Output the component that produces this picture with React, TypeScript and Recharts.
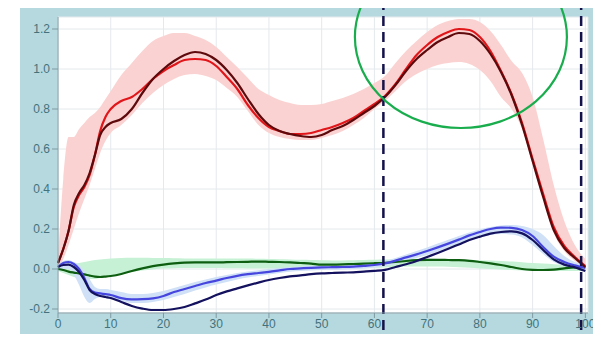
import React from 'react';
import {
  ComposedChart,
  Line,
  Area,
  XAxis,
  YAxis,
  CartesianGrid,
  ReferenceLine,
  ReferenceDot,
} from 'recharts';

// % of cycle
const X_VALUES = [
  0, 1, 2, 3, 4, 5, 6, 7, 8, 9, 10, 12, 14, 16, 18, 20, 22, 24, 26, 28, 30, 32, 34, 36, 38, 40,
  42, 44, 46, 48, 50, 52, 54, 56, 58, 60, 62, 64, 66, 68, 70, 72, 74, 76, 78, 80, 82, 84, 86, 88,
  90, 92, 94, 96, 98, 100,
];

const RED = [
  0.03, 0.1, 0.19, 0.31, 0.37, 0.41, 0.47, 0.57, 0.69, 0.76, 0.8, 0.84, 0.86, 0.9, 0.95, 0.99,
  1.02, 1.045, 1.05, 1.045, 1.015, 0.96, 0.9, 0.82, 0.755, 0.71, 0.69, 0.675, 0.675, 0.68, 0.695,
  0.71, 0.73, 0.755, 0.79, 0.825, 0.865, 0.925, 1.0, 1.07, 1.12, 1.16, 1.185, 1.2, 1.195, 1.16,
  1.09, 0.99, 0.875, 0.73, 0.55, 0.375, 0.21, 0.115, 0.06, 0.015,
];

const DARK_RED = [
  0.03, 0.1, 0.19, 0.32, 0.38, 0.42, 0.48, 0.57, 0.67, 0.71, 0.73, 0.75, 0.8, 0.88, 0.95, 1.0,
  1.04, 1.07, 1.085, 1.075, 1.045, 0.995, 0.93, 0.85, 0.775, 0.72, 0.69, 0.675, 0.665, 0.66, 0.67,
  0.695, 0.715, 0.745, 0.78, 0.815, 0.86, 0.92, 0.99, 1.05, 1.095, 1.135, 1.16, 1.18, 1.175, 1.14,
  1.075, 0.985, 0.87, 0.72, 0.54, 0.36, 0.195, 0.105, 0.055, 0.01,
];

const RED_HI = [
  0.05, 0.45, 0.66, 0.66, 0.7, 0.73, 0.76, 0.78, 0.81, 0.85, 0.89, 0.97, 1.03, 1.09, 1.14, 1.165,
  1.18, 1.18, 1.165, 1.145, 1.11, 1.06, 1.01, 0.955, 0.9, 0.87, 0.845, 0.83, 0.82, 0.82, 0.825,
  0.84, 0.855, 0.875, 0.9, 0.93, 0.965, 1.03, 1.09, 1.14, 1.185, 1.22, 1.24, 1.25, 1.25, 1.235,
  1.19, 1.12, 1.04, 0.98, 0.86, 0.65, 0.42, 0.24, 0.12, 0.05,
];

const RED_LO = [
  0.0, 0.05, 0.12, 0.2, 0.28, 0.35, 0.42, 0.5, 0.58, 0.64, 0.68, 0.72, 0.77, 0.83, 0.88, 0.92,
  0.95, 0.97, 0.975, 0.965, 0.945, 0.905, 0.86, 0.79, 0.72, 0.68, 0.66, 0.65, 0.645, 0.645, 0.655,
  0.67, 0.69, 0.72, 0.755, 0.8, 0.84, 0.89, 0.94, 0.975, 1.0, 1.02, 1.03, 1.035, 1.025, 0.995,
  0.94, 0.86, 0.8, 0.7, 0.52, 0.35, 0.18, 0.09, 0.04, 0.0,
];

const BLUE = [
  0.01, 0.03, 0.035, 0.025, 0.0, -0.045, -0.1, -0.118, -0.122, -0.126, -0.13, -0.146, -0.152,
  -0.151, -0.147, -0.135, -0.115, -0.1, -0.085, -0.07, -0.058, -0.045, -0.034, -0.026, -0.02,
  -0.014, -0.007, 0.0, 0.003, 0.006, 0.008, 0.009, 0.01, 0.012, 0.016, 0.02, 0.028, 0.042, 0.058,
  0.073, 0.09, 0.108, 0.127, 0.147, 0.168, 0.185, 0.2, 0.207, 0.206, 0.195, 0.165, 0.11, 0.062,
  0.035, 0.018, 0.005,
];

const NAVY = [
  0.01, 0.02, 0.022, 0.01, -0.015, -0.055, -0.105, -0.125, -0.135, -0.14, -0.145, -0.165, -0.185,
  -0.198, -0.205, -0.205, -0.2, -0.19, -0.172, -0.153, -0.13, -0.112, -0.097, -0.082, -0.068,
  -0.055, -0.045, -0.037, -0.032, -0.026, -0.022, -0.02, -0.018, -0.017, -0.013, -0.009, -0.004,
  0.01, 0.024, 0.04, 0.06, 0.08, 0.101, 0.123, 0.145, 0.162, 0.177, 0.185, 0.188, 0.178, 0.145,
  0.095, 0.048, 0.022, 0.008, -0.01,
];

const BLUE_HI = [
  0.02, 0.04, 0.045, 0.035, 0.02, -0.01, -0.05, -0.09, -0.1, -0.1, -0.105, -0.115, -0.125, -0.125,
  -0.12, -0.11, -0.095, -0.08, -0.065, -0.052, -0.04, -0.03, -0.02, -0.012, -0.006, 0.0, 0.005,
  0.01, 0.013, 0.016, 0.018, 0.019, 0.02, 0.022, 0.026, 0.032, 0.04, 0.055, 0.072, 0.09, 0.108,
  0.127, 0.146, 0.165, 0.183, 0.198, 0.21, 0.218, 0.22, 0.215, 0.2, 0.17, 0.115, 0.065, 0.035,
  0.02,
];

const BLUE_LO = [
  -0.01, 0.0, 0.0, -0.03, -0.08, -0.14, -0.17, -0.15, -0.14, -0.145, -0.15, -0.16, -0.17, -0.17,
  -0.165, -0.155, -0.14, -0.125, -0.108, -0.092, -0.078, -0.065, -0.052, -0.043, -0.035, -0.028,
  -0.02, -0.014, -0.01, -0.007, -0.005, -0.004, -0.002, 0.0, 0.003, 0.007, 0.014, 0.026, 0.04,
  0.055, 0.07, 0.088, 0.106, 0.124, 0.142, 0.158, 0.17, 0.175, 0.172, 0.158, 0.12, 0.075, 0.035,
  0.015, 0.003, -0.005,
];

const GREEN = [
  0.0, -0.005, -0.013, -0.018, -0.022, -0.027, -0.033, -0.038, -0.04, -0.038, -0.035, -0.025,
  -0.01, 0.003, 0.014, 0.022, 0.028, 0.032, 0.033, 0.033, 0.033, 0.034, 0.035, 0.036, 0.037,
  0.036, 0.035, 0.033, 0.03, 0.027, 0.022, 0.022, 0.023, 0.025, 0.027, 0.029, 0.031, 0.035, 0.04,
  0.044, 0.046, 0.046, 0.045, 0.044, 0.041, 0.035, 0.028, 0.02, 0.01, 0.0, -0.004, -0.005, -0.003,
  0.003, 0.008, 0.01,
];

const GREEN_HI = [
  0.01, 0.015, 0.02, 0.025, 0.03, 0.035, 0.04, 0.045, 0.048, 0.05, 0.052, 0.055, 0.056, 0.056,
  0.055, 0.055, 0.054, 0.053, 0.052, 0.052, 0.052, 0.052, 0.052, 0.052, 0.051, 0.05, 0.049, 0.048,
  0.046, 0.045, 0.044, 0.043, 0.043, 0.044, 0.045, 0.046, 0.047, 0.049, 0.05, 0.051, 0.051, 0.05,
  0.049, 0.048, 0.046, 0.044, 0.042, 0.04, 0.037, 0.034, 0.03, 0.027, 0.024, 0.022, 0.02, 0.02,
];

const GREEN_LO = [
  -0.01, -0.02, -0.03, -0.04, -0.045, -0.05, -0.05, -0.05, -0.045, -0.04, -0.035, -0.025, -0.015,
  -0.008, -0.002, 0.002, 0.004, 0.005, 0.005, 0.005, 0.005, 0.004, 0.004, 0.003, 0.003, 0.002,
  0.002, 0.001, 0.0, 0.0, 0.0, 0.0, 0.0, 0.002, 0.004, 0.006, 0.008, 0.01, 0.012, 0.013, 0.013,
  0.012, 0.011, 0.009, 0.006, 0.003, 0.0, -0.003, -0.005, -0.008, -0.01, -0.01, -0.01, -0.01,
  -0.01, -0.01,
];

const X_TICKS = [0, 10, 20, 30, 40, 50, 60, 70, 80, 90, 100];
const Y_TICKS = [-0.2, 0, 0.2, 0.4, 0.6, 0.8, 1.0, 1.2];

// dashed event markers (% of cycle)
const EVENTS = [61.7, 99.2];
// highlighted region centre
const HIGHLIGHT_X = 76.4;
const HIGHLIGHT_Y = 1.16;

const rows = X_VALUES.map((x, i) => ({
  x,
  red: RED[i],
  darkRed: DARK_RED[i],
  redBand: [RED_LO[i], RED_HI[i]],
  blue: BLUE[i],
  navy: NAVY[i],
  blueBand: [BLUE_LO[i], BLUE_HI[i]],
  green: GREEN[i],
  greenBand: [GREEN_LO[i], GREEN_HI[i]],
}));

const tickStyle = { fill: '#44727c', fontSize: 12, fontFamily: 'Liberation Sans, Arial, sans-serif' };

const EventLine = (props: any) => (
  <line
    x1={props.x1}
    x2={props.x2}
    y1={0}
    y2={338}
    stroke="#14124a"
    strokeWidth={2.5}
    strokeDasharray="10 6"
  />
);

const Ring = (props: any) => (
  <ellipse cx={props.cx} cy={props.cy} rx={106} ry={91} fill="none" stroke="#1aad4e" strokeWidth={2.2} />
);

export default function App() {
  return (
    <div style={{ margin: -8, position: 'relative', width: 601, height: 342, overflow: 'hidden' }}>
      <div
        style={{
          position: 'absolute',
          left: 20,
          top: 7,
          width: 581,
          height: 335,
          background: '#b6d9df',
        }}
      />
      <div style={{ position: 'absolute', left: 0, top: 0 }}>
        <ComposedChart
          width={601}
          height={342}
          data={rows}
          margin={{ top: 17, right: 13, bottom: 0, left: 20 }}
        >
          <CartesianGrid stroke="#e4e9ec" fill="#ffffff" />
          <XAxis
            dataKey="x"
            type="number"
            domain={[0, 100.5]}
            ticks={X_TICKS}
            height={29}
            tick={tickStyle}
            tickSize={5}
            tickMargin={1}
            stroke="#7f9aa2"
            interval={0}
          />
          <YAxis
            type="number"
            domain={[-0.22, 1.26]}
            ticks={Y_TICKS}
            width={38}
            tick={tickStyle}
            tickSize={6}
            tickMargin={2}
            stroke="#7f9aa2"
            interval={0}
            tickFormatter={(v: number) => v.toFixed(1)}
          />
          <Area
            dataKey="redBand"
            type="monotone"
            stroke="none"
            fill="#fbd2d2"
            fillOpacity={1}
            isAnimationActive={false}
          />
          <Area
            dataKey="greenBand"
            type="monotone"
            stroke="none"
            fill="#c6f1d4"
            fillOpacity={1}
            isAnimationActive={false}
          />
          <Area
            dataKey="blueBand"
            type="monotone"
            stroke="none"
            fill="#cfe0f7"
            fillOpacity={1}
            isAnimationActive={false}
          />
          <Line dataKey="green" type="monotone" stroke="#0d5e10" strokeWidth={2.2} dot={false} isAnimationActive={false} />
          <Line dataKey="blue" type="monotone" stroke="#4646de" strokeWidth={2.2} dot={false} isAnimationActive={false} />
          <Line dataKey="navy" type="monotone" stroke="#14125e" strokeWidth={2.2} dot={false} isAnimationActive={false} />
          <Line dataKey="red" type="monotone" stroke="#e0161a" strokeWidth={2.2} dot={false} isAnimationActive={false} />
          <Line dataKey="darkRed" type="monotone" stroke="#5e0a0c" strokeWidth={2.2} dot={false} isAnimationActive={false} />
          {EVENTS.map((e) => (
            <ReferenceLine key={e} x={e} ifOverflow="visible" shape={EventLine} />
          ))}
          <ReferenceDot x={HIGHLIGHT_X} y={HIGHLIGHT_Y} ifOverflow="visible" shape={Ring} />
        </ComposedChart>
      </div>
    </div>
  );
}
